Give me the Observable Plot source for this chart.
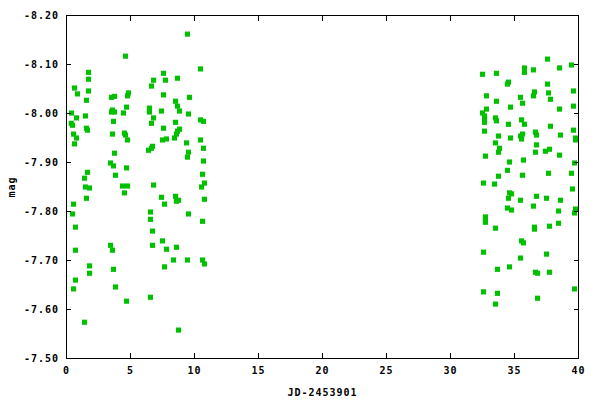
<!DOCTYPE html>
<html><head><meta charset="utf-8">
<script src="https://cdn.jsdelivr.net/npm/d3@7"></script>
<script src="https://cdn.jsdelivr.net/npm/@observablehq/plot@0.6"></script>
<style>body{margin:0;background:#fff} svg{display:block}</style>
</head><body><div id="chart"></div>
<script>
// JD - 2453901
const jd = [
0.39,0.37,0.47,0.63,0.86,0.78,0.55,0.78,0.63,1.48,1.72,1.72,1.56,1.72,1.56,1.64,1.64,1.41,1.48,1.80,1.56,0.55,0.47,0.70,0.70,1.80,1.80,0.70,0.55,1.41,
3.52,3.75,3.59,3.52,3.75,3.67,3.59,3.75,3.44,3.67,3.83,3.44,3.59,3.67,3.83,
4.61,4.84,4.77,4.69,4.45,4.53,4.61,4.77,4.69,4.38,4.77,4.53,4.69,
6.80,6.64,6.48,6.48,6.80,6.64,6.72,6.64,6.41,6.80,6.56,6.56,6.72,6.72,6.56,7.42,7.58,7.73,7.58,7.58,7.50,7.81,7.42,7.66,7.50,7.81,7.66,
8.67,8.52,8.67,8.83,8.52,8.83,8.67,8.59,8.44,8.52,8.75,8.59,8.59,8.36,8.75,
9.45,9.61,9.53,9.38,9.53,9.45,9.53,9.45,
10.47,10.47,10.70,10.47,10.70,10.70,10.63,10.78,10.55,10.78,10.63,10.63,10.78,
37.58,35.78,35.78,36.48,38.52,39.45,32.50,33.59,34.53,34.45,37.58,36.56,36.48,37.66,35.47,37.81,39.61,32.81,33.59,35.63,
34.69,38.52,39.61,32.81,32.50,32.66,32.66,32.66,33.52,33.59,35.55,34.53,35.78,37.81,32.66,39.61,36.64,36.72,35.63,35.47,
35.55,33.75,34.69,38.59,39.77,39.77,33.52,36.72,33.83,33.75,37.73,37.42,36.64,38.52,32.73,35.70,34.61,39.69,34.45,37.66,
35.63,39.45,33.75,32.58,33.44,39.53,34.61,34.77,34.53,36.72,37.50,35.47,38.59,34.45,34.77,36.48,38.44,39.77,39.69,32.73,
32.73,32.73,33.52,36.56,36.56,37.73,38.44,35.55,35.70,32.58,37.50,35.47,33.67,34.61,36.64,36.80,37.73,32.58,33.67,39.69,
36.80,33.52
];
// magnitude
const mag = [
-8.001,-7.980,-7.976,-8.052,-8.040,-7.991,-7.958,-7.950,-7.938,-7.995,-8.084,-8.070,-8.027,-8.046,-7.970,-7.966,-7.880,-7.868,-7.850,-7.848,-7.827,-7.815,-7.795,-7.768,-7.721,-7.689,-7.674,-7.660,-7.642,-7.574,
-8.033,-8.035,-8.007,-8.003,-8.003,-7.984,-7.958,-7.919,-7.899,-7.893,-7.874,-7.731,-7.721,-7.682,-7.646,
-8.117,-8.042,-8.036,-8.013,-8.001,-7.960,-7.956,-7.946,-7.889,-7.852,-7.852,-7.838,-7.617,
-8.068,-8.056,-8.011,-8.003,-7.991,-7.980,-7.933,-7.929,-7.925,-7.854,-7.799,-7.784,-7.760,-7.731,-7.625,-8.005,-8.082,-8.068,-8.038,-7.970,-7.946,-7.948,-7.829,-7.815,-7.740,-7.723,-7.687,
-8.072,-8.025,-8.015,-8.005,-7.982,-7.968,-7.964,-7.958,-7.950,-7.831,-7.823,-7.821,-7.727,-7.701,-7.558,
-8.162,-8.033,-7.999,-7.940,-7.921,-7.911,-7.795,-7.701,
-8.091,-7.987,-7.984,-7.946,-7.929,-7.903,-7.876,-7.858,-7.850,-7.825,-7.780,-7.701,-7.693,
-8.111,-8.093,-8.084,-8.089,-8.093,-8.099,-8.080,-8.082,-8.064,-8.060,-8.060,-8.044,-8.036,-8.042,-8.033,-8.029,-8.046,-8.036,-8.025,-8.021,
-8.013,-8.009,-8.015,-8.009,-8.001,-7.995,-7.989,-7.982,-7.991,-7.985,-7.987,-7.978,-7.978,-7.974,-7.964,-7.966,-7.962,-7.956,-7.958,-7.954,
-7.948,-7.954,-7.950,-7.956,-7.950,-7.946,-7.940,-7.936,-7.929,-7.921,-7.927,-7.923,-7.921,-7.915,-7.913,-7.905,-7.901,-7.899,-7.884,-7.878,
-7.874,-7.878,-7.872,-7.858,-7.856,-7.846,-7.838,-7.836,-7.827,-7.831,-7.827,-7.823,-7.823,-7.807,-7.803,-7.811,-7.801,-7.805,-7.797,-7.789,
-7.782,-7.778,-7.766,-7.768,-7.764,-7.770,-7.776,-7.740,-7.736,-7.717,-7.713,-7.705,-7.682,-7.687,-7.676,-7.674,-7.676,-7.636,-7.633,-7.642,
-7.623,-7.611
];
const xTicks = [0, 5, 10, 15, 20, 25, 30, 35, 40];
const yTicks = [-8.2, -8.1, -8.0, -7.9, -7.8, -7.7, -7.6, -7.5];
const xLabel = "JD-2453901";
const yLabel = "mag";

const data = jd.map((x, i) => ({jd: x, mag: mag[i]}));
const fmtY = d => d.toFixed(2);

const chart = Plot.plot({
  width: 600,
  height: 400,
  marginLeft: 66,
  marginRight: 22,
  marginTop: 15,
  marginBottom: 42,
  style: {fontFamily: "'DejaVu Sans Mono', monospace", fontSize: "10px", fontWeight: "bold", background: "#fff", color: "#000", letterSpacing: "1px"},
  x: {domain: [0, 40]},
  y: {domain: [-8.2, -7.5], reverse: true},
  marks: [
    Plot.dot(data, {x: "jd", y: "mag", symbol: "square", r: 2.9, fill: "#00c000", stroke: "none"}),
    Plot.frame({stroke: "#000", strokeWidth: 1}),
    Plot.axisX({ticks: xTicks, tickSize: -5, tickPadding: 13, tickFormat: d => String(d), label: xLabel, labelAnchor: "center", labelArrow: "none", labelOffset: 37}),
    Plot.axisX({anchor: "top", ticks: xTicks, tickSize: -5, tickFormat: () => "", label: null}),
    Plot.axisY({ticks: yTicks, tickSize: -5, tickPadding: 12.5, tickFormat: fmtY, label: yLabel, labelAnchor: "center", labelArrow: "none", labelOffset: 59}),
    Plot.axisY({anchor: "right", ticks: yTicks, tickSize: -5, tickFormat: () => "", label: null})
  ]
});
document.getElementById("chart").appendChild(chart);
</script>
</body></html>
